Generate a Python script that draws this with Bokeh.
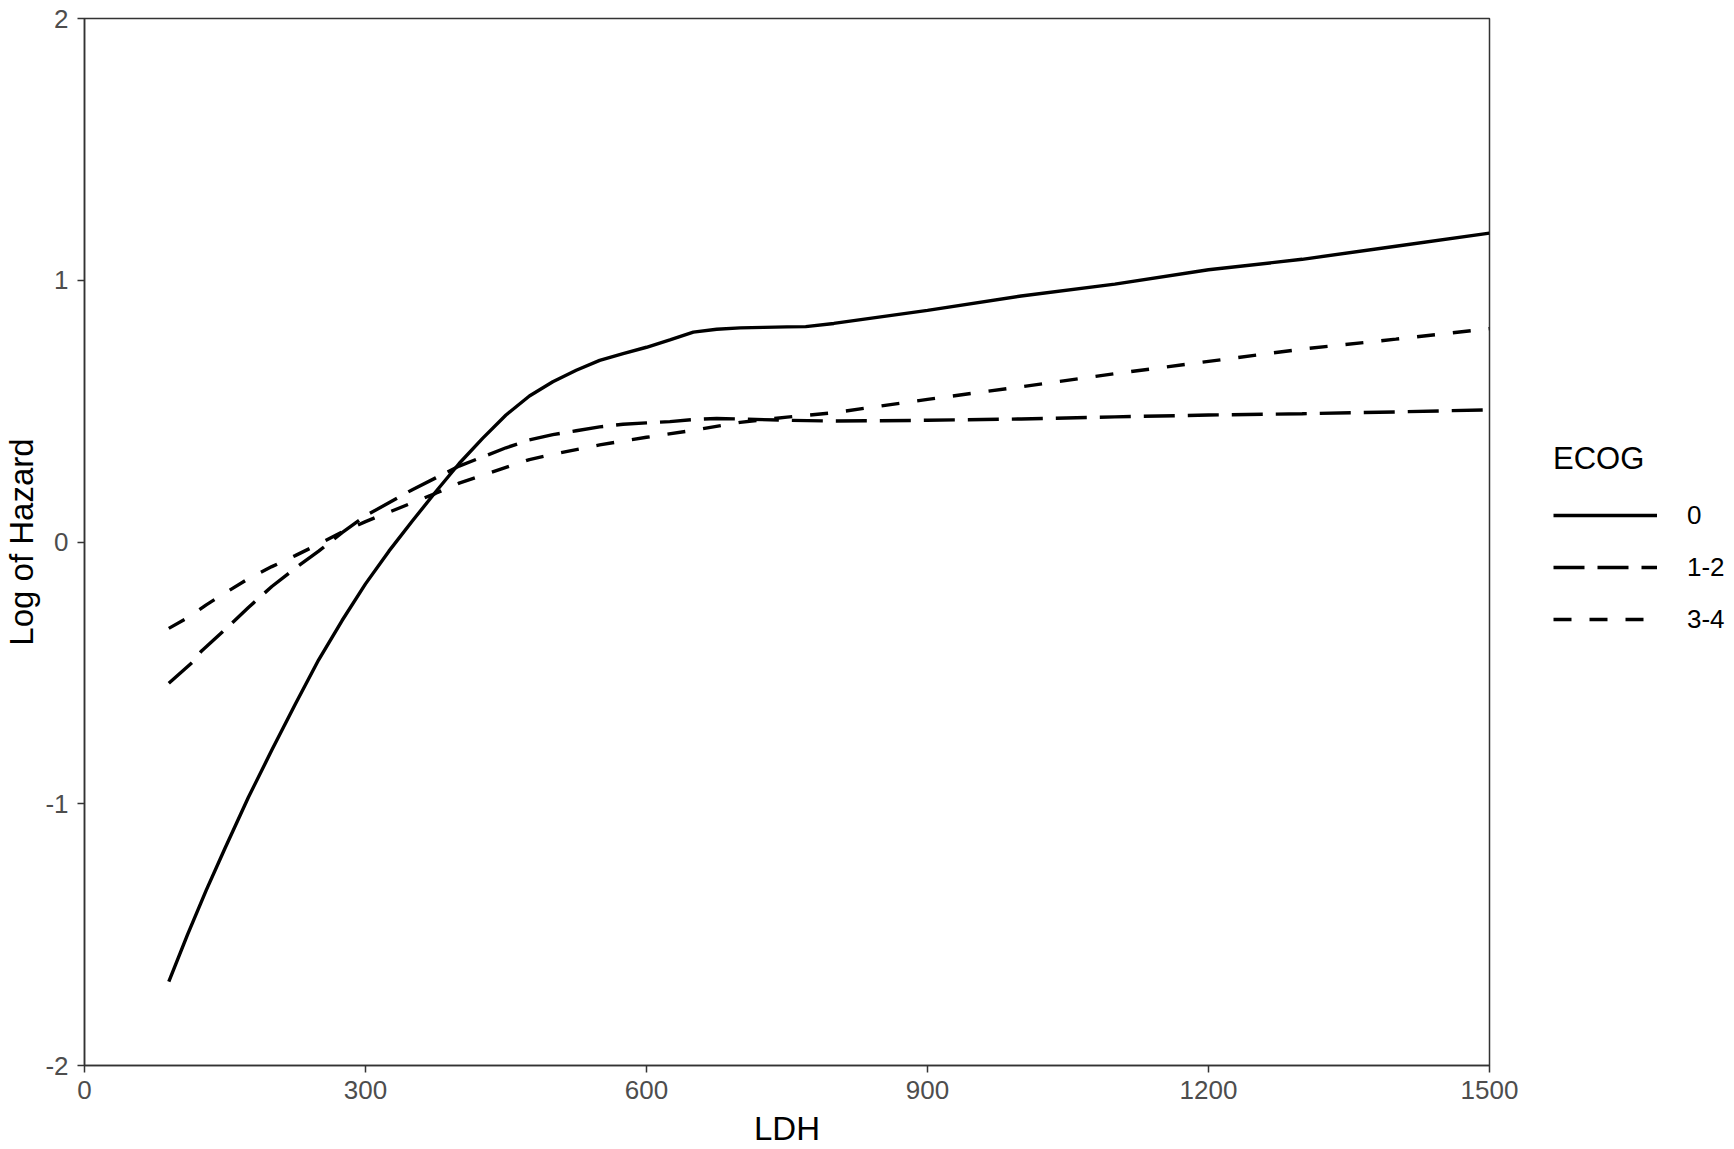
from bokeh.plotting import figure
from bokeh.models import Legend, LegendItem, Range1d, FixedTicker
from bokeh.layouts import row
from bokeh.embed import file_html
from bokeh.resources import INLINE

# ECOG 0
ldh_0 = [90, 110, 130, 150, 175, 200, 225, 250, 275, 300, 325, 350, 375, 400, 425, 450,
         475, 500, 525, 550, 575, 600, 625, 650, 675, 700, 725, 750, 770, 800, 900, 1000,
         1100, 1200, 1300, 1400, 1500]
hz_0 = [-1.68, -1.50, -1.33, -1.17, -0.975, -0.795, -0.62, -0.45, -0.30, -0.16, -0.035, 0.08,
        0.192, 0.30, 0.396, 0.485, 0.558, 0.612, 0.656, 0.694, 0.72, 0.744, 0.772, 0.802, 0.813,
        0.818, 0.82, 0.822, 0.823, 0.835, 0.885, 0.94, 0.985, 1.04, 1.08, 1.13, 1.18]

# ECOG 1-2
ldh_12 = [90, 115, 125, 150, 175, 200, 225, 250, 275, 300, 325, 350, 375, 400, 425, 450,
          475, 500, 525, 550, 575, 600, 625, 650, 675, 700, 750, 800, 900, 1000, 1100, 1200,
          1300, 1400, 1500]
hz_12 = [-0.54, -0.46, -0.416, -0.335, -0.25, -0.17, -0.10, -0.035, 0.036, 0.10, 0.15, 0.20,
         0.245, 0.29, 0.325, 0.36, 0.39, 0.41, 0.425, 0.44, 0.45, 0.455, 0.46, 0.468, 0.472,
         0.47, 0.465, 0.462, 0.465, 0.47, 0.478, 0.485, 0.49, 0.497, 0.505]

# ECOG 3-4
ldh_34 = [90, 110, 130, 150, 175, 200, 225, 250, 275, 300, 325, 350, 375, 400, 425, 450,
          475, 500, 525, 550, 575, 600, 650, 700, 750, 800, 900, 1000, 1100, 1200, 1300,
          1400, 1500]
hz_34 = [-0.33, -0.29, -0.24, -0.195, -0.14, -0.094, -0.052, -0.008, 0.038, 0.078, 0.114,
         0.15, 0.186, 0.225, 0.255, 0.285, 0.315, 0.335, 0.353, 0.371, 0.386, 0.40, 0.427,
         0.457, 0.477, 0.494, 0.545, 0.593, 0.643, 0.69, 0.737, 0.775, 0.815]

legend_title = "ECOG"
legend_labels = ["0", "1-2", "3-4"]
x_ticks = [0, 300, 600, 900, 1200, 1500]
y_ticks = [-2, -1, 0, 1, 2]
y_tick_labels = ["-2", "-1", "0", "1", "2"]

FONT = "Liberation Sans"
LINE_STYLES = [None, "31 13", "18 18"]
series = [(ldh_0, hz_0), (ldh_12, hz_12), (ldh_34, hz_34)]


def line_kw(dash):
    kw = dict(line_color="black", line_width=3.4)
    if dash:
        kw["line_dash"] = dash
    return kw


p = figure(width=1524, height=1149, output_backend="svg", toolbar_location=None,
           x_range=Range1d(0, 1500), y_range=Range1d(-2, 2),
           min_border_left=84, min_border_right=35, min_border_top=18, min_border_bottom=82)

p.xgrid.visible = False
p.ygrid.visible = False
p.background_fill_color = "white"
p.border_fill_color = "white"
p.outline_line_color = "#333333"
p.outline_line_width = 1.5
p.outline_line_alpha = 1.0

for ax in (p.xaxis[0], p.yaxis[0]):
    ax.axis_line_color = "#333333"
    ax.axis_line_width = 1.5
    ax.major_tick_line_color = "#333333"
    ax.major_tick_line_width = 1.5
    ax.major_tick_in = 0
    ax.major_tick_out = 7
    ax.minor_tick_line_color = None
    ax.major_label_text_font = FONT
    ax.major_label_text_font_size = "26px"
    ax.major_label_text_color = "#4D4D4D"
    ax.axis_label_text_font = FONT
    ax.axis_label_text_font_size = "33px"
    ax.axis_label_text_font_style = "normal"
    ax.axis_label_text_color = "black"

p.xaxis.ticker = FixedTicker(ticks=x_ticks)
p.yaxis.ticker = FixedTicker(ticks=y_ticks)
p.yaxis.major_label_overrides = {t: s for t, s in zip(y_ticks, y_tick_labels)}
p.xaxis.axis_label = "LDH"
p.yaxis.axis_label = "Log of Hazard"
p.xaxis.major_label_standoff = 8
p.yaxis.major_label_standoff = 9
p.xaxis.axis_label_standoff = 8
p.yaxis.axis_label_standoff = 2

for (xs, ys), dash in zip(series, LINE_STYLES):
    p.line(xs, ys, **line_kw(dash))

# Legend panel: a separate canvas so the legend is not clipped by the plot frame.
# Its x range lies outside the data, so only the legend keys show.
p2 = figure(width=210, height=1149, output_backend="svg", toolbar_location=None,
            x_range=Range1d(-20, -10), y_range=Range1d(-2, 2),
            min_border_left=0, min_border_right=0, min_border_top=0, min_border_bottom=0)
p2.axis.visible = False
p2.xgrid.visible = False
p2.ygrid.visible = False
p2.outline_line_color = None
p2.border_fill_color = "white"

items = []
for lab, (xs, ys), dash in zip(legend_labels, series, LINE_STYLES):
    r = p2.line(xs, ys, **line_kw(dash))
    items.append(LegendItem(label=lab, renderers=[r]))

legend = Legend(items=items, location=(29, 426))
legend.title = legend_title
legend.title_text_font = FONT
legend.title_text_font_size = "31px"
legend.title_text_font_style = "normal"
legend.title_text_color = "black"
legend.title_standoff = 18
legend.label_text_font = FONT
legend.label_text_font_size = "26px"
legend.label_text_color = "black"
legend.glyph_width = 104
legend.glyph_height = 40
legend.label_height = 40
legend.label_standoff = 30
legend.spacing = 12
legend.padding = 0
legend.margin = 0
legend.border_line_color = None
legend.background_fill_alpha = 0
p2.add_layout(legend)

layout = row(p, p2)
open("out.html", "w").write(file_html(layout, INLINE))
